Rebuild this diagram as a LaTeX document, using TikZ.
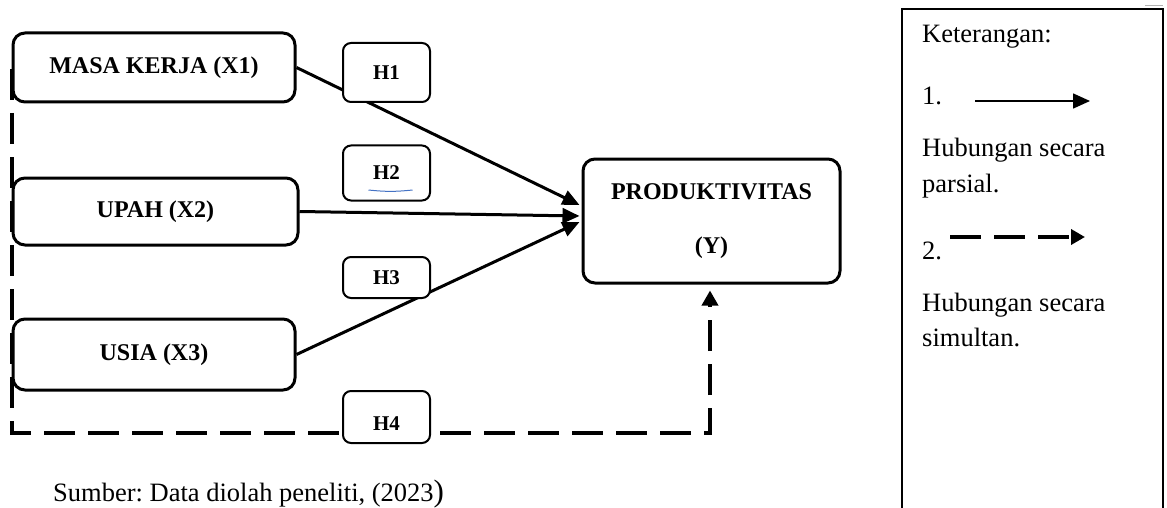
\documentclass[tikz,border=0pt]{standalone}
\usepackage{fontspec}
\setmainfont{Liberation Serif}
\usetikzlibrary{arrows.meta,calc}
\definecolor{ulblue}{HTML}{4472C4}
\frenchspacing
\begin{document}
\begin{tikzpicture}[x=1pt,y=-1pt,
  mainbox/.style={draw, line width=3pt, rounded corners=12pt, fill=white, inner sep=0pt,
    font=\fontsize{24}{54}\selectfont\bfseries, align=center},
  hbox/.style={draw, line width=2pt, rounded corners=8pt, fill=white, inner sep=0pt,
    minimum width=87pt, font=\fontsize{21}{21}\selectfont\bfseries},
  hlabel/.style={inner sep=0pt, font=\fontsize{21}{21}\selectfont\bfseries},
  partial/.style={line width=3pt, -{Triangle[length=17pt,width=15pt]}},
  simul/.style={line width=3.5pt, dash pattern=on 31pt off 13pt, -{Triangle[length=15pt,width=16pt]}},
  legtext/.style={font=\fontsize{26.5}{35}\selectfont, anchor=base west, inner sep=0pt},
]
\useasboundingbox (0,0) rectangle (1167,508);

% main boxes
\node[mainbox, minimum width=282pt, minimum height=69pt] (x1) at (154,67.5) {MASA KERJA (X1)};
\node[mainbox, minimum width=285pt, minimum height=67pt] (x2) at (155.5,211.5) {UPAH (X2)};
\node[mainbox, minimum width=282pt, minimum height=71pt] (x3) at (154,354.5) {USIA (X3)};
\node[mainbox, minimum width=257pt, minimum height=124pt] (y) at (711.5,221) {PRODUKTIVITAS\\(Y)};

% partial connectors
\draw[partial] (x1.east) -- ($(y.west)+(-2,-16)$);
\draw[partial] (x2.east) -- ($(y.west)+(-2,-5)$);
\draw[partial] (x3.east) -- ($(y.west)+(-2,1)$);

% simultaneous connector
\coordinate (s0) at (12,69);
\coordinate (c1) at (12,433);
\coordinate (c2) at (710,433);
\draw[simul, shorten >=6pt] (s0) -- (c1) -- (c2) -- (c2 |- y.south);

% hypothesis boxes
\node[hbox, minimum height=59pt] (h1) at (386.5,72.5) {H1};
\node[hbox, minimum height=55pt] (h2) at (386.5,173) {H2};
\node[hbox, minimum height=41pt] (h3) at (386.5,277.5) {H3};
\node[hbox, minimum height=52pt] (h4) at (386.5,417) {};
\node[hlabel] (h4t) at ($(h4.center)+(0,7)$) {H4};
\draw[ulblue, line width=1pt] ($(h2.center)+(-18,17)$) to[bend right=6] ($(h2.center)+(26,17)$);

% source
\node[legtext] (src) at (53,501) {Sumber: Data diolah peneliti, (2023{\fontsize{31}{31}\selectfont)}};

% legend
\draw[line width=1.5pt] (902,508) -- (902,9) -- (1163,9) -- (1163,508);
\draw[gray!60, line width=1pt] (1145,6) -- (1163,6);
\node[legtext] (k) at (922,43) {Keterangan:};
\node[legtext] (n1) at (922,105) {1.};
\coordinate (a1s) at (975,101);
\coordinate (a1e) at (1090,101);
\draw[line width=1.5pt, -{Triangle[length=17pt,width=15pt]}] (a1s) -- (a1e);
\node[legtext] (p1) at (922,157) {Hubungan secara};
\node[legtext] (p2) at (922,192) {parsial.};
\node[legtext] (n2) at (922,259) {2.};
\coordinate (a2s) at (950,237);
\coordinate (a2e) at (1085,237);
\draw[line width=4pt, dash pattern=on 31pt off 13pt, -{Triangle[length=14pt,width=15pt]}] (a2s) -- (a2e);
\node[legtext] (q1) at (922,311) {Hubungan secara};
\node[legtext] (q2) at (922,346) {simultan.};
\end{tikzpicture}
\end{document}
